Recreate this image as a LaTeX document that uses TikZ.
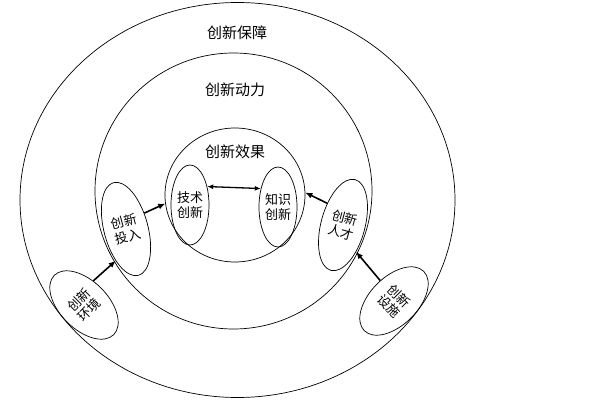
\documentclass[tikz,border=0pt]{standalone}
\usepackage{fontspec}
\newfontfamily\cjk{Noto Sans CJK SC}
\usetikzlibrary{shapes.geometric,arrows.meta}
\begin{document}
\begin{tikzpicture}[x=1pt,y=-1pt,font=\cjk\fontsize{15}{18}\selectfont,
        ring/.style={draw,ellipse,line width=0.7pt,inner sep=0pt},
        cell/.style={draw,ellipse,line width=0.7pt,inner sep=0pt,align=center,font=\cjk\fontsize{13}{15}\selectfont},
        arr/.style={line width=1.6pt,-{Latex[length=7pt,width=6pt]}}]
                \useasboundingbox (0,0) rectangle (598,420);
                % three rings
                \node[ring,minimum width=435pt,minimum height=395pt] (guard) at (237.5,200) {};
                \node[ring,minimum width=277pt,minimum height=276pt] (drive) at (233.5,191) {};
                \node[ring,minimum width=140pt,minimum height=134pt] (effect) at (235,195) {};
                \node (guardlbl) at (237,33) {创新保障};
                \node (drivelbl) at (235,90) {创新动力};
                \node (effectlbl) at (235,152) {创新效果};
                % inner cells
                \node[cell,minimum width=38pt,minimum height=80pt] (tech) at (190,205) {技术\\创新};
                \node[cell,minimum width=38pt,minimum height=80pt] (know) at (278,207) {知识\\创新};
                \node[cell,minimum width=44pt,minimum height=96pt,rotate=15] (invest) at (126,229) {创新\\投入};
                \node[cell,minimum width=44pt,minimum height=94pt,rotate=-15] (talent) at (343,225) {创新\\人才};
                \node[cell,minimum width=48pt,minimum height=84pt,rotate=45] (env) at (84,305) {创新\\环境};
                \node[cell,minimum width=48pt,minimum height=84pt,rotate=-45] (facility) at (394,301) {创新\\设施};
                % arrows
                \draw[line width=1.3pt,{Latex[length=6pt,width=5pt]}-{Latex[length=6pt,width=5pt]}] (tech.47) -- (know.133);
                \draw[arr] (env.24) -- (invest.237);
                \draw[arr] (invest.26) -- (effect.187);
                \draw[arr] (facility.169) -- (talent.-49);
                \draw[arr] (talent.141) -- (effect.2);
            \end{tikzpicture}
\end{document}
